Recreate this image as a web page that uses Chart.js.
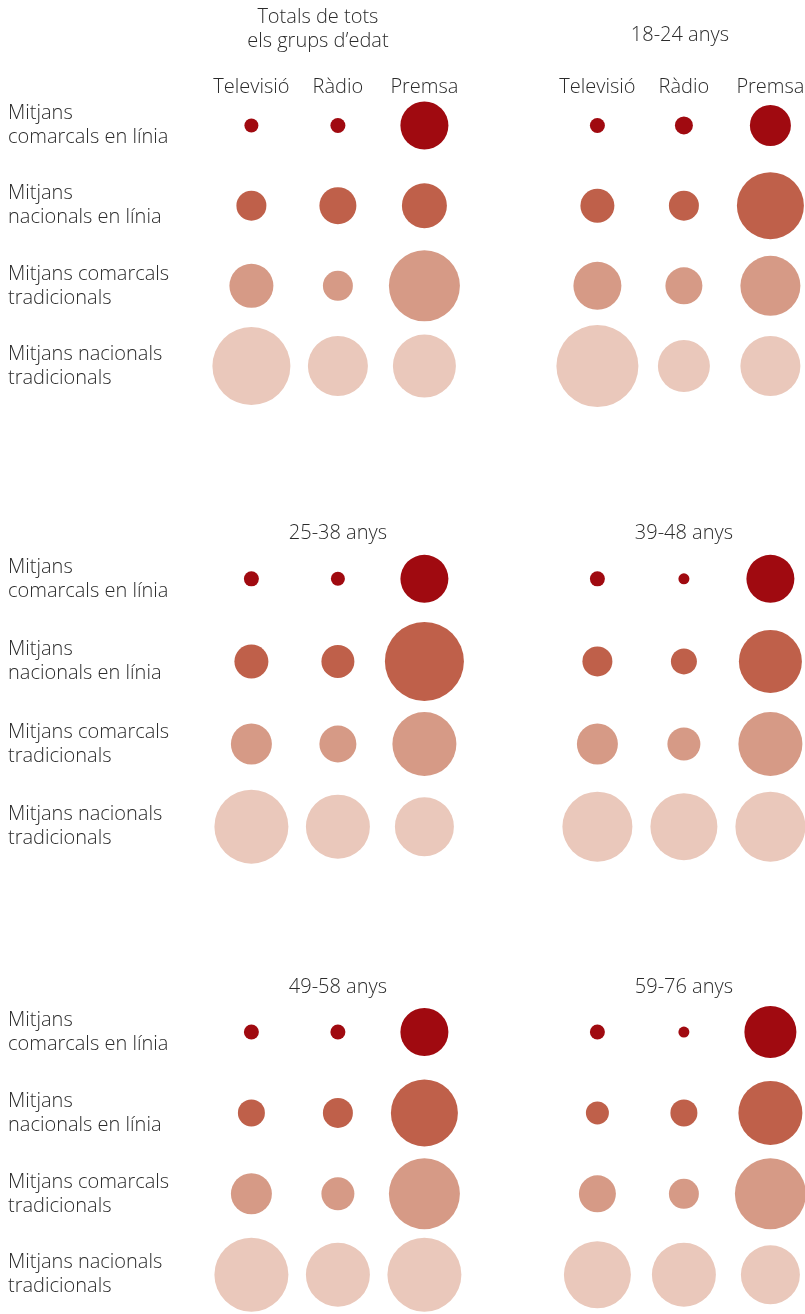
<!DOCTYPE html>
<html><head><meta charset="utf-8">
<script src="https://cdn.jsdelivr.net/npm/chart.js@4/dist/chart.umd.min.js"></script>
<style>
html,body{margin:0;padding:0;background:#fff;}
body{width:805px;height:1314px;position:relative;overflow:hidden;}
canvas{position:absolute;left:0;}
</style></head><body>
<canvas id="c1" width="805" height="440" style="top:0px"></canvas>
<canvas id="c2" width="805" height="420" style="top:470px"></canvas>
<canvas id="c3" width="805" height="390" style="top:924px"></canvas>
<script>
// ---- data ----
const channels = ["Televisió", "Ràdio", "Premsa"];
const mediaRows = [
  ["Mitjans", "comarcals en línia"],
  ["Mitjans", "nacionals en línia"],
  ["Mitjans comarcals", "tradicionals"],
  ["Mitjans nacionals", "tradicionals"]
];
const groupTitles = [
  ["Totals de tots", "els grups d’edat"],
  ["18-24 anys"],
  ["25-38 anys"],
  ["39-48 anys"],
  ["49-58 anys"],
  ["59-76 anys"]
];
// bubble values per group: rows = media types, columns = channels
const totals   = [[14, 15, 48], [30, 37, 45], [44, 30, 71], [78, 60, 63]];
const age18_24 = [[15, 18, 41], [34, 30, 67], [48, 37, 60], [82, 52, 60]];
const age25_38 = [[15, 14, 48], [34, 33, 79], [41, 37, 64], [74, 64, 59]];
const age39_48 = [[15, 11, 48], [30, 26, 63], [41, 33, 64], [70, 67, 70]];
const age49_58 = [[15, 15, 48], [27, 30, 67], [41, 33, 71], [74, 64, 74]];
const age59_76 = [[15, 11, 52], [23, 27, 64], [37, 30, 71], [67, 64, 59]];

// ---- styles ----
const rowColors = ['#a00a10', '#bf604a', '#d69a86', '#eac8bb'];
const textColor = '#2b2b2b';
const fontFamily = "'Open Sans', 'Noto Sans', sans-serif";
const fontSize = 20;
const fontWeight = 300;
Chart.defaults.font.family = fontFamily;
Chart.defaults.font.size = fontSize;
Chart.defaults.font.weight = fontWeight;
Chart.defaults.color = textColor;

const panelTitles = {
  id: 'panelTitles',
  afterDraw(chart, args, o) {
    const ctx = chart.ctx, xs = chart.scales.x;
    ctx.save();
    ctx.fillStyle = textColor;
    ctx.font = fontWeight + ' ' + fontSize + 'px ' + fontFamily;
    ctx.textAlign = 'center';
    ctx.textBaseline = 'middle';
    (o.items || []).forEach(it => {
      const x = xs.getPixelForValue(it.center) + (it.dx || 0);
      it.lines.forEach((t, i) => ctx.fillText(t, x, it.y + i * 24));
    });
    ctx.restore();
  }
};

const PANEL_GAP = 4; // x index offset of right panel

function build(id, leftVals, rightVals, cfg) {
  const datasets = mediaRows.map((m, ri) => ({
    label: m.join(' '),
    data: [leftVals, rightVals].flatMap((vals, pi) =>
      vals[ri].map((v, ci) => ({ x: ci + pi * PANEL_GAP, y: ri, r: v / 2 }))),
    backgroundColor: rowColors[ri],
    hoverBackgroundColor: rowColors[ri],
    borderWidth: 0,
    hoverBorderWidth: 0,
    hoverRadius: 0,
    clip: false
  }));
  return new Chart(document.getElementById(id), {
    type: 'bubble',
    data: { datasets },
    plugins: [panelTitles],
    options: {
      responsive: false,
      animation: false,
      events: [],
      layout: { autoPadding: false, padding: cfg.padding },
      plugins: {
        legend: { display: false },
        tooltip: { enabled: false },
        panelTitles: { items: cfg.titles }
      },
      scales: {
        x: {
          type: 'linear',
          position: 'top',
          display: cfg.showHeaders,
          min: -0.6, max: 6.4,
          grid: { display: false, drawTicks: false },
          border: { display: false },
          afterBuildTicks: s => { s.ticks = [0, 1, 2, 4, 5, 6].map(v => ({ value: v })); },
          afterFit: s => {
            s.height = cfg.showHeaders ? 37 : 0;
            s.paddingLeft = 0; s.paddingRight = 0;
          },
          ticks: {
            padding: 0,
            maxRotation: 0,
            autoSkip: false,
            callback: v => channels[v >= PANEL_GAP ? v - PANEL_GAP : v]
          }
        },
        y: {
          type: 'linear',
          reverse: true,
          min: cfg.yMin, max: cfg.yMax,
          grid: { display: false, drawTicks: false },
          border: { display: false },
          afterBuildTicks: s => { s.ticks = [0, 1, 2, 3].map(v => ({ value: v })); },
          afterFit: s => { s.width = 191.5; s.paddingTop = 0; s.paddingBottom = 0; },
          ticks: {
            crossAlign: 'far',
            padding: 0,
            font: { size: fontSize, weight: fontWeight, lineHeight: 24 / fontSize },
            callback: v => mediaRows[v]
          }
        }
      }
    }
  });
}

build('c1', totals, age18_24, {
  padding: { top: 62, left: 8, right: 0, bottom: 25.8 },
  showHeaders: true, yMin: -0.33, yMax: 3.6,
  titles: [
    { center: 1, dx: -20, y: 17, lines: groupTitles[0] },
    { center: 5, dx: -4, y: 35, lines: groupTitles[1] }
  ]
});
build('c2', age25_38, age39_48, {
  padding: { top: 70, left: 8, right: 0, bottom: 13.8 },
  showHeaders: false, yMin: -0.47, yMax: 3.6,
  titles: [
    { center: 1, dx: 0, y: 63, lines: groupTitles[2] },
    { center: 5, dx: 0, y: 63, lines: groupTitles[3] }
  ]
});
build('c3', age49_58, age59_76, {
  padding: { top: 70, left: 8, right: 0, bottom: 2.9 },
  showHeaders: false, yMin: -0.47, yMax: 3.45,
  titles: [
    { center: 1, dx: 0, y: 63, lines: groupTitles[4] },
    { center: 5, dx: 0, y: 63, lines: groupTitles[5] }
  ]
});
</script>
</body></html>
